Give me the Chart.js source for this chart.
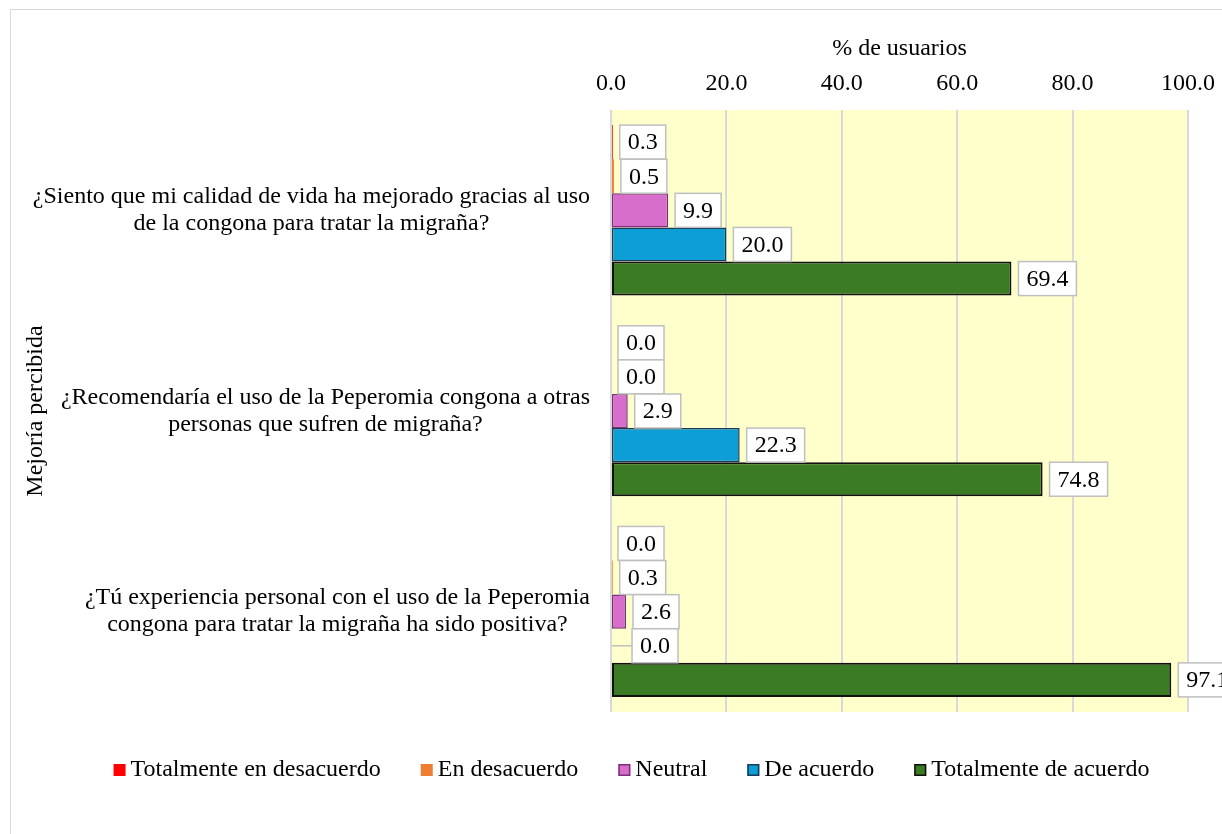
<!DOCTYPE html>
<html>
<head>
<meta charset="utf-8">
<script src="https://cdn.jsdelivr.net/npm/chart.js@4/dist/chart.umd.min.js"></script>
<style>
html,body{margin:0;padding:0;background:#fff;overflow:hidden;}
#wrap{width:1222px;height:834px;position:relative;}
</style>
</head>
<body>
<div id="wrap"><canvas id="c" width="1222" height="834"></canvas></div>
<script>
// ---- data ----
const categories = [
  ["¿Siento que mi calidad de vida ha mejorado gracias al uso", "de la congona para tratar la migraña?"],
  ["¿Recomendaría el uso de la Peperomia congona a otras", "personas que sufren de migraña?"],
  ["¿Tú experiencia personal con el uso de la Peperomia", "congona para tratar la migraña ha sido positiva?"]
];
const seriesNames = ["Totalmente en desacuerdo", "En desacuerdo", "Neutral", "De acuerdo", "Totalmente de acuerdo"];
const totalmenteDesacuerdo = [0.3, 0.0, 0.0];
const enDesacuerdo = [0.5, 0.0, 0.3];
const neutral = [9.9, 2.9, 2.6];
const deAcuerdo = [20.0, 22.3, 0.0];
const totalmenteAcuerdo = [69.4, 74.8, 97.1];
const xTicks = [0, 20, 40, 60, 80, 100];
const xTitle = "% de usuarios";
const yTitle = "Mejoría percibida";
// extra label offsets (px) drawn with a leader line: [series][category]
const labelLeader = [[0,0,0],[0,0,0],[0,0,0],[0,0,14],[0,0,0]];

const FONT = '"Liberation Serif", "Times New Roman", serif';
const FS = 24;
const fills = ["#FF0000", "#ED7D31", "#D86ECC", "#0E9ED6", "#3B7B23"];
const borders = ["#FF0000", "#ED7D31", "#7E2F7C", "#1B3A57", "#111111"];
const bw = [0, 0, 1.5, 1.5, 2];
const seriesValues = [totalmenteDesacuerdo, enDesacuerdo, neutral, deAcuerdo, totalmenteAcuerdo];

const PLOT_LEFT = 611, PLOT_TOP = 110, PAD_LEFT = 21, PAD_TOP = 34;

const bgPlugin = {
  id: 'bg',
  beforeDraw(chart) {
    const {ctx, chartArea: a} = chart;
    ctx.save();
    ctx.fillStyle = '#fff';
    ctx.fillRect(0, 0, chart.width, chart.height);
    ctx.strokeStyle = '#D9D9D9';
    ctx.lineWidth = 1;
    ctx.strokeRect(10.5, 9.5, 1400, 1000);
    ctx.fillStyle = '#FFFFCC';
    ctx.fillRect(a.left, a.top, a.right - a.left, a.bottom - a.top);
    ctx.restore();
  }
};

const labelPlugin = {
  id: 'labels',
  afterDatasetsDraw(chart) {
    const ctx = chart.ctx;
    ctx.save();
    ctx.font = FS + 'px ' + FONT;
    ctx.textAlign = 'center';
    ctx.textBaseline = 'middle';
    chart.data.datasets.forEach((ds, di) => {
      const meta = chart.getDatasetMeta(di);
      meta.data.forEach((el, i) => {
        const txt = ds.data[i].toFixed(1);
        const tw = ctx.measureText(txt).width;
        const w = tw + 16, h = 34;
        const shift = labelLeader[di][i];
        const x0 = el.x + 7 + shift;
        const y0 = el.y - h / 2;
        if (shift) {
          ctx.strokeStyle = '#BFBFBF';
          ctx.lineWidth = 1.5;
          ctx.beginPath();
          ctx.moveTo(el.x + 1, el.y);
          ctx.lineTo(x0, el.y);
          ctx.stroke();
        }
        ctx.fillStyle = '#fff';
        ctx.fillRect(x0, y0, w, h);
        ctx.strokeStyle = '#BFBFBF';
        ctx.lineWidth = 1.5;
        ctx.strokeRect(x0, y0, w, h);
        ctx.fillStyle = '#000';
        ctx.fillText(txt, x0 + w / 2, el.y + 1);
      });
    });
    ctx.restore();
  }
};

const catPlugin = {
  id: 'cats',
  afterDraw(chart) {
    const ctx = chart.ctx;
    const ys = chart.scales.y;
    ctx.save();
    ctx.font = FS + 'px ' + FONT;
    ctx.fillStyle = '#000';
    ctx.textAlign = 'center';
    ctx.textBaseline = 'middle';
    const right = chart.chartArea.left - 21;
    const lh = 27;
    categories.forEach((lines, i) => {
      const cy = ys.getPixelForValue(i);
      const widest = Math.max(...lines.map(l => ctx.measureText(l).width));
      const cx = right - widest / 2;
      lines.forEach((l, k) => {
        ctx.fillText(l, cx, cy + (k - (lines.length - 1) / 2) * lh);
      });
    });
    // legend
    ctx.textAlign = 'left';
    const gap = 40, box = 12, tg = 5;
    const widths = seriesNames.map(n => ctx.measureText(n).width);
    const total = widths.reduce((s, w) => s + box + tg + w, 0) + gap * (seriesNames.length - 1);
    let x = 631.5 - total / 2;
    const ly = 770;
    seriesNames.forEach((n, k) => {
      ctx.fillStyle = fills[k];
      ctx.fillRect(x, ly - box / 2, box, box);
      if (bw[k] > 0) {
        ctx.strokeStyle = borders[k];
        ctx.lineWidth = 1.5;
        ctx.strokeRect(x + 0.75, ly - box / 2 + 0.75, box - 1.5, box - 1.5);
      }
      ctx.fillStyle = '#000';
      ctx.fillText(n, x + box + tg, ly);
      x += box + tg + widths[k] + gap;
    });
    ctx.restore();
  }
};

new Chart(document.getElementById('c'), {
  type: 'bar',
  data: {
    labels: categories.map(c => c.join(' ')),
    datasets: seriesNames.map((n, k) => ({
      label: n,
      data: seriesValues[k],
      backgroundColor: fills[k],
      borderColor: borders[k],
      borderWidth: bw[k],
      borderSkipped: false,
      categoryPercentage: 0.85,
      barPercentage: 1.0
    }))
  },
  options: {
    indexAxis: 'y',
    responsive: false,
    animation: false,
    layout: { padding: { left: PAD_LEFT, right: 34, top: PAD_TOP, bottom: 122 } },
    plugins: { legend: { display: false }, tooltip: { enabled: false } },
    scales: {
      x: {
        position: 'top',
        min: 0, max: 100,
        afterBuildTicks: s => { s.ticks = xTicks.map(v => ({ value: v })); },
        afterFit: s => { s.height = PLOT_TOP - PAD_TOP; s.paddingLeft = 0; s.paddingRight = 0; },
        ticks: {
          padding: 12,
          color: '#000',
          font: { family: FONT, size: FS, lineHeight: 1.2 },
          callback: v => Number(v).toFixed(1)
        },
        grid: { color: '#D9D9D9', lineWidth: 2, drawTicks: false },
        border: { display: false },
        title: { display: true, text: xTitle, color: '#000', padding: { top: 0, bottom: 0 }, font: { family: FONT, size: FS, lineHeight: 1.2 } }
      },
      y: {
        afterFit: s => { s.width = PLOT_LEFT - PAD_LEFT; },
        ticks: { display: false },
        grid: { display: false },
        border: { display: false },
        title: { display: true, text: yTitle, color: '#000', padding: { top: 0, bottom: 0 }, font: { family: FONT, size: FS, lineHeight: 1.2 } }
      }
    }
  },
  plugins: [bgPlugin, labelPlugin, catPlugin]
});
</script>
</body>
</html>
